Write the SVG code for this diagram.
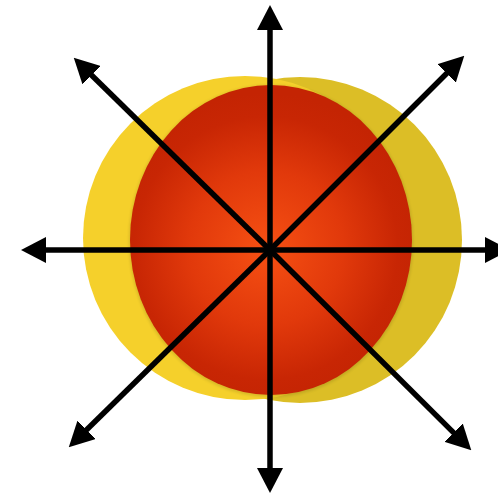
<svg xmlns="http://www.w3.org/2000/svg" width="498" height="496" viewBox="0 0 498 496">
  <defs>
    <radialGradient id="redGrad" gradientUnits="userSpaceOnUse" cx="266" cy="248" r="155">
      <stop offset="0" stop-color="#F65013"/>
      <stop offset="0.5" stop-color="#E1390B"/>
      <stop offset="0.85" stop-color="#C82604"/>
      <stop offset="1" stop-color="#C42403"/>
    </radialGradient>
    <filter id="soft" x="-10%" y="-10%" width="120%" height="120%">
      <feGaussianBlur stdDeviation="1.5"/>
    </filter>
    <marker id="arrow" markerUnits="userSpaceOnUse" viewBox="0 -13 25 26" refX="1" refY="0" markerWidth="25" markerHeight="26" orient="auto">
      <path d="M0,-13 L25,0 L0,13 z" fill="#000"/>
    </marker>
  </defs>
  <style>
    .conn { stroke: #000; stroke-width: 5.5; fill: none; marker-end: url(#arrow); }
  </style>
  <rect width="498" height="496" fill="#fff"/>
  <g id="yellow-right">
    <ellipse cx="300" cy="240" rx="162" ry="163" fill="#DCBE26"/>
  </g>
  <g id="yellow-left">
    <ellipse cx="245" cy="238" rx="162" ry="162" fill="#F5D02B"/>
  </g>
  <g id="red-core">
    <ellipse cx="271" cy="241" rx="142" ry="156" fill="#000" opacity="0.12" filter="url(#soft)"/>
    <ellipse cx="271" cy="240" rx="141" ry="155" fill="url(#redGrad)"/>
  </g>
  <g id="connectors">
    <line class="conn" x1="270" y1="250" x2="270" y2="29"/>
    <line class="conn" x1="270" y1="250" x2="270" y2="469"/>
    <line class="conn" x1="270" y1="250" x2="45" y2="250"/>
    <line class="conn" x1="270" y1="250" x2="486" y2="250"/>
    <line class="conn" x1="270" y1="250" x2="90.9" y2="74.5"/>
    <line class="conn" x1="270" y1="250" x2="447.3" y2="72.7"/>
    <line class="conn" x1="270" y1="250" x2="85.9" y2="430.5"/>
    <line class="conn" x1="270" y1="250" x2="454.3" y2="433.4"/>
  </g>
</svg>
